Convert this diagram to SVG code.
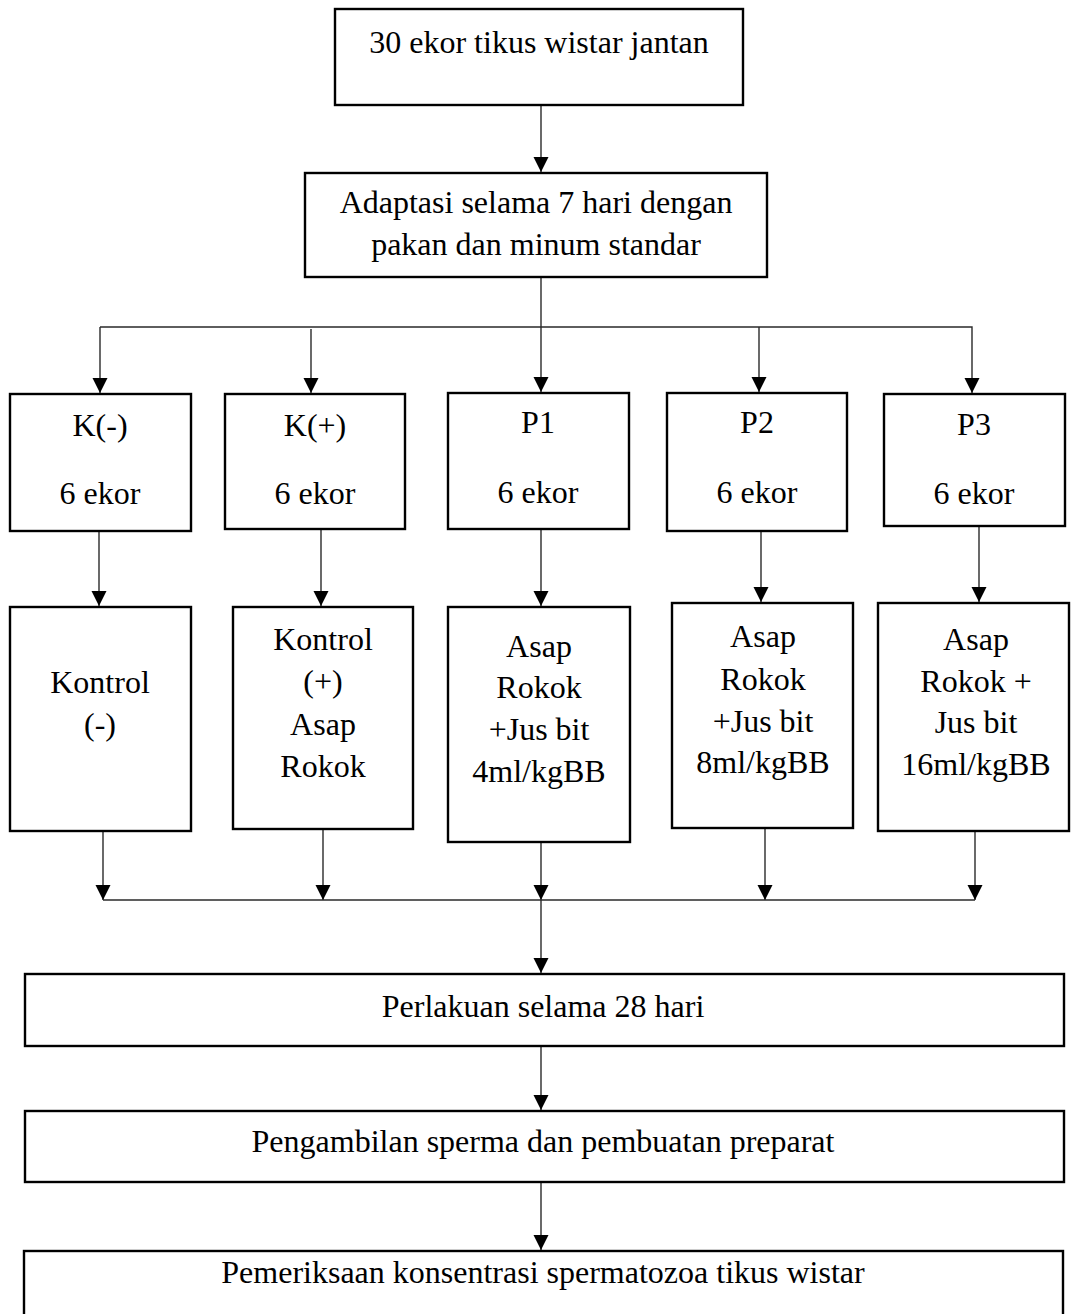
<svg xmlns="http://www.w3.org/2000/svg" width="1071" height="1314" viewBox="0 0 1071 1314">
<style>
  .box{fill:#fff;stroke:#000;stroke-width:2.4}
  .t{font-family:"Liberation Serif","Times New Roman",serif;font-size:32px;fill:#000;text-anchor:middle}
  .c{fill:none;stroke:#2a2a2a;stroke-width:1.4}
</style>
<defs>
  <marker id="ah" markerUnits="userSpaceOnUse" markerWidth="16" markerHeight="16" refX="15" refY="8" orient="auto">
    <path d="M0,0.5 L15,8 L0,15.5 Z" fill="#000"/>
  </marker>
</defs>
<rect width="1071" height="1314" fill="#fff"/>

<g id="connectors">
  <line class="c" x1="541" y1="105" x2="541" y2="172" marker-end="url(#ah)"/>
  <line class="c" x1="541" y1="277" x2="541" y2="392" marker-end="url(#ah)"/>
  <polyline class="c" points="100,327 972,327 972,393" marker-end="url(#ah)"/>
  <line class="c" x1="100" y1="327" x2="100" y2="393" marker-end="url(#ah)"/>
  <line class="c" x1="311" y1="329" x2="311" y2="393" marker-end="url(#ah)"/>
  <line class="c" x1="759" y1="327" x2="759" y2="392" marker-end="url(#ah)"/>
  <line class="c" x1="99" y1="531" x2="99" y2="606" marker-end="url(#ah)"/>
  <line class="c" x1="321" y1="529" x2="321" y2="606" marker-end="url(#ah)"/>
  <line class="c" x1="541" y1="529" x2="541" y2="606" marker-end="url(#ah)"/>
  <line class="c" x1="761" y1="531" x2="761" y2="602" marker-end="url(#ah)"/>
  <line class="c" x1="979" y1="526" x2="979" y2="602" marker-end="url(#ah)"/>
  <line class="c" x1="103" y1="831" x2="103" y2="900" marker-end="url(#ah)"/>
  <line class="c" x1="323" y1="829" x2="323" y2="900" marker-end="url(#ah)"/>
  <line class="c" x1="541" y1="833" x2="541" y2="900" marker-end="url(#ah)"/>
  <line class="c" x1="765" y1="828" x2="765" y2="900" marker-end="url(#ah)"/>
  <line class="c" x1="975" y1="831" x2="975" y2="900" marker-end="url(#ah)"/>
  <line class="c" x1="103" y1="900" x2="975" y2="900"/>
  <line class="c" x1="541" y1="900" x2="541" y2="973" marker-end="url(#ah)"/>
  <line class="c" x1="541" y1="1046" x2="541" y2="1110" marker-end="url(#ah)"/>
  <line class="c" x1="541" y1="1182" x2="541" y2="1250" marker-end="url(#ah)"/>
</g>

<g id="n-start">
  <rect class="box" x="335" y="9" width="408" height="96"/>
  <text class="t" x="539" y="53">30 ekor tikus wistar jantan</text>
</g>
<g id="n-adaptasi">
  <rect class="box" x="305" y="173" width="462" height="104"/>
  <text class="t" x="536" y="213">Adaptasi selama 7 hari dengan</text>
  <text class="t" x="536" y="255">pakan dan minum standar</text>
</g>

<g id="n-kneg">
  <rect class="box" x="10" y="394" width="181" height="137"/>
  <text class="t" x="100" y="436">K(-)</text>
  <text class="t" x="100" y="504">6 ekor</text>
</g>
<g id="n-kpos">
  <rect class="box" x="225" y="394" width="180" height="135"/>
  <text class="t" x="315" y="436">K(+)</text>
  <text class="t" x="315" y="504">6 ekor</text>
</g>
<g id="n-p1">
  <rect class="box" x="448" y="393" width="181" height="136"/>
  <text class="t" x="538" y="433">P1</text>
  <text class="t" x="538" y="503">6 ekor</text>
</g>
<g id="n-p2">
  <rect class="box" x="667" y="393" width="180" height="138"/>
  <text class="t" x="757" y="433">P2</text>
  <text class="t" x="757" y="503">6 ekor</text>
</g>
<g id="n-p3">
  <rect class="box" x="884" y="394" width="181" height="132"/>
  <text class="t" x="974" y="435">P3</text>
  <text class="t" x="974" y="504">6 ekor</text>
</g>

<g id="n-kneg-t">
  <rect class="box" x="10" y="607" width="181" height="224"/>
  <text class="t" x="100" y="693">Kontrol</text>
  <text class="t" x="100" y="735">(-)</text>
</g>
<g id="n-kpos-t">
  <rect class="box" x="233" y="607" width="180" height="222"/>
  <text class="t" x="323" y="650">Kontrol</text>
  <text class="t" x="323" y="692">(+)</text>
  <text class="t" x="323" y="735">Asap</text>
  <text class="t" x="323" y="777">Rokok</text>
</g>
<g id="n-p1-t">
  <rect class="box" x="448" y="607" width="182" height="235"/>
  <text class="t" x="539" y="657">Asap</text>
  <text class="t" x="539" y="698">Rokok</text>
  <text class="t" x="539" y="740">+Jus bit</text>
  <text class="t" x="539" y="782">4ml/kgBB</text>
</g>
<g id="n-p2-t">
  <rect class="box" x="672" y="603" width="181" height="225"/>
  <text class="t" x="763" y="647">Asap</text>
  <text class="t" x="763" y="690">Rokok</text>
  <text class="t" x="763" y="732">+Jus bit</text>
  <text class="t" x="763" y="773">8ml/kgBB</text>
</g>
<g id="n-p3-t">
  <rect class="box" x="878" y="603" width="191" height="228"/>
  <text class="t" x="976" y="650">Asap</text>
  <text class="t" x="976" y="692">Rokok +</text>
  <text class="t" x="976" y="733">Jus bit</text>
  <text class="t" x="976" y="775">16ml/kgBB</text>
</g>

<g id="n-perlakuan">
  <rect class="box" x="25" y="974" width="1039" height="72"/>
  <text class="t" x="543" y="1017">Perlakuan selama 28 hari</text>
</g>
<g id="n-pengambilan">
  <rect class="box" x="25" y="1111" width="1039" height="71"/>
  <text class="t" x="543" y="1152">Pengambilan sperma dan pembuatan preparat</text>
</g>
<g id="n-pemeriksaan">
  <rect class="box" x="24" y="1251" width="1039" height="75"/>
  <text class="t" x="543" y="1283">Pemeriksaan konsentrasi spermatozoa tikus wistar</text>
</g>
</svg>
